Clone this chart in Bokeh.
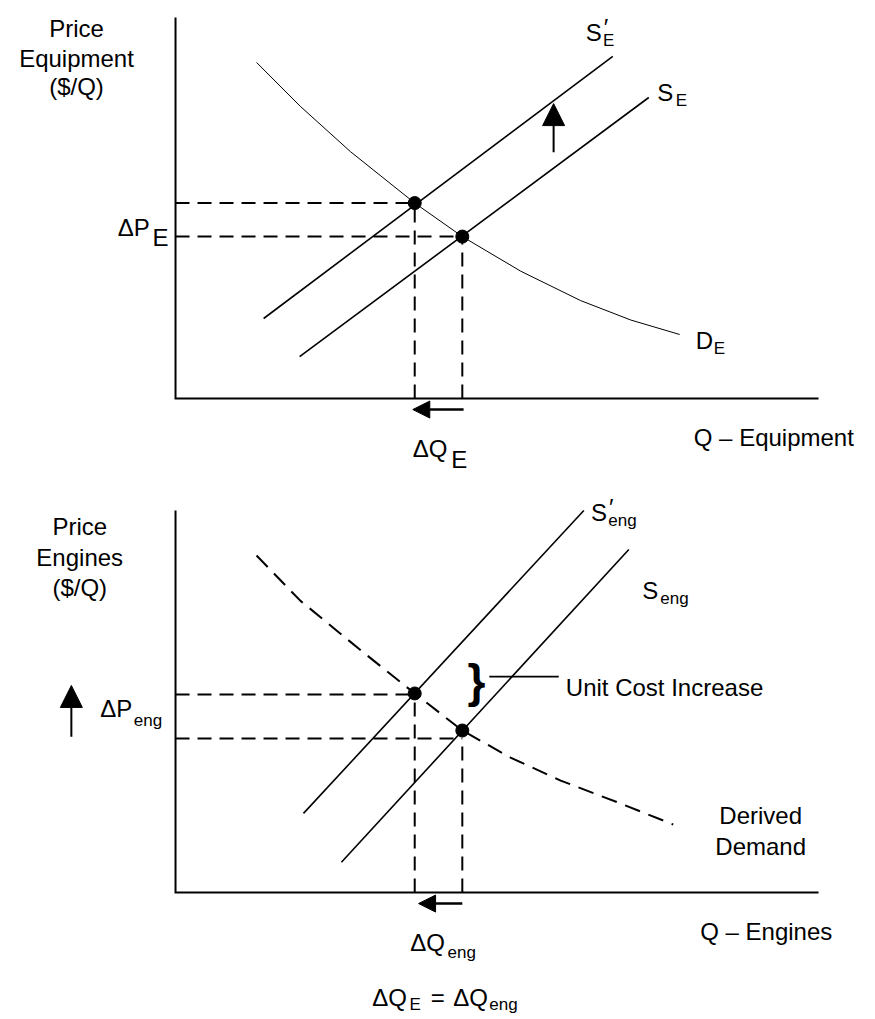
from bokeh.plotting import figure
from bokeh.layouts import column
from bokeh.models import Range1d, Label, Arrow, NormalHead
from bokeh.embed import file_html
from bokeh.resources import INLINE

FONT = "Liberation Sans"
MAIN = "24px"
SUB = "17px"

# ---------------- data (axis units: Q 0-100, P 0-100) ----------------
Q_MAX = 100
P_MAX = 100

# Top panel: equipment market
equip_demand_q = [12.6, 19.4, 27.2, 37.2, 44.6, 53.7, 63.0, 70.8, 78.4]
equip_demand_p = [88.2, 76.7, 64.8, 51.3, 42.5, 33.4, 25.7, 20.6, 16.8]
equip_supply_new_q = [13.7, 68.0]
equip_supply_new_p = [21.0, 89.8]
equip_supply_old_q = [19.3, 73.6]
equip_supply_old_p = [11.0, 79.0]
equip_equil_q = [37.2, 44.6]
equip_equil_p = [51.3, 42.5]
equip_shift_q = [58.8, 58.8]      # supply shift arrow (tail, tip)
equip_shift_p = [64.6, 77.4]
equip_dq_q = [44.8, 36.9]         # quantity change arrow (tail, tip)
equip_dq_p = [-2.9, -2.9]

# Bottom panel: engines market
eng_demand_q = [12.6, 19.4, 28.8, 37.2, 44.6, 52.1, 59.9, 69.2, 77.4]
eng_demand_p = [88.2, 76.4, 63.4, 52.1, 42.4, 35.3, 29.3, 23.3, 17.8]
eng_supply_new_q = [19.9, 63.5]
eng_supply_new_p = [20.7, 100.0]
eng_supply_old_q = [25.8, 70.5]
eng_supply_old_p = [7.9, 89.8]
eng_equil_q = [37.2, 44.6]
eng_equil_p = [52.1, 42.4]
eng_guide_p = [51.8, 40.3]
eng_dp_q = [-16.2, -16.2]          # price change arrow (tail, tip)
eng_dp_p = [40.8, 54.2]
eng_dq_q = [44.6, 37.8]
eng_dq_p = [-2.9, -2.9]
eng_callout_q = [48.8, 59.6]
eng_callout_p = [56.5, 56.5]

# ---------------- helpers ----------------
X_LO, X_HI = -27.22, 108.86


def base_fig(height, y_lo, y_hi):
    p = figure(width=875, height=height,
               x_range=Range1d(X_LO, X_HI), y_range=Range1d(y_lo, y_hi),
               x_axis_type=None, y_axis_type=None,
               output_backend="svg", toolbar_location=None, min_border=0,
               background_fill_color="white", border_fill_color="white",
               outline_line_color=None)
    p.line([0, 0, Q_MAX], [P_MAX, 0, 0], line_width=2, color="black",
           line_join="miter")
    return p


def lab(p, x, y, text, size=MAIN, align="left", style="normal"):
    p.add_layout(Label(x=x, y=y, text=text, text_font=FONT,
                       text_font_size=size, text_align=align,
                       text_font_style=style,
                       text_baseline="alphabetic", text_color="black"))


def arrow(p, xs, ys, head, width):
    p.add_layout(Arrow(end=NormalHead(size=head, fill_color="black",
                                      line_color="black", line_width=1),
                       x_start=xs[0], y_start=ys[0], x_end=xs[1], y_end=ys[1],
                       line_width=width, line_color="black"))


def guides(p, qs, ps):
    p.segment(x0=[0] * len(qs), y0=ps, x1=qs, y1=ps, line_width=2,
              line_dash="14 8", color="black")
    p.segment(x0=qs, y0=[0] * len(qs), x1=qs, y1=ps, line_width=2,
              line_dash="14 8", color="black")


# ---------------- top panel ----------------
p1 = base_fig(480, -21.52, 104.46)
p1.line(equip_demand_q, equip_demand_p, line_width=1, color="black")
p1.line(equip_supply_new_q, equip_supply_new_p, line_width=1.6, color="black")
p1.line(equip_supply_old_q, equip_supply_old_p, line_width=1.6, color="black")
guides(p1, equip_equil_q, equip_equil_p)
p1.scatter(equip_equil_q, equip_equil_p, size=13, color="black")
arrow(p1, equip_shift_q, equip_shift_p, 22, 2)
arrow(p1, equip_dq_q, equip_dq_p, 17, 2.5)

lab(p1, -15.4, 97.1, "Price", align="center")
lab(p1, -15.4, 89.2, "Equipment", align="center")
lab(p1, -15.4, 81.9, "($/Q)", align="center")
lab(p1, -9.0, 44.9, "ΔP")
lab(p1, -3.6, 42.2, "E")
lab(p1, 36.9, -13.1, "ΔQ")
lab(p1, 42.9, -16.0, "E")
lab(p1, 63.8, 96.1, "S")
lab(p1, 66.6, 97.3, "′")
lab(p1, 66.5, 94.0, "E", size=SUB)
lab(p1, 74.9, 80.3, "S")
lab(p1, 77.8, 78.2, "E", size=SUB)
lab(p1, 80.9, 15.2, "D")
lab(p1, 83.7, 13.1, "E", size=SUB)
lab(p1, 80.6, -10.2, "Q – Equipment")

# ---------------- bottom panel ----------------
p2 = base_fig(539, -33.25, 107.85)
p2.line(eng_demand_q, eng_demand_p, line_width=2, line_dash="16 9",
        color="black")
p2.line(eng_supply_new_q, eng_supply_new_p, line_width=1.6, color="black")
p2.line(eng_supply_old_q, eng_supply_old_p, line_width=1.6, color="black")
guides(p2, eng_equil_q, eng_guide_p)
p2.scatter(eng_equil_q, eng_equil_p, size=13, color="black")
arrow(p2, eng_dp_q, eng_dp_p, 22, 2)
arrow(p2, eng_dq_q, eng_dq_p, 17, 2.5)
p2.line(eng_callout_q, eng_callout_p, line_width=1.6, color="black")

lab(p2, -14.9, 95.8, "Price", align="center")
lab(p2, -14.9, 87.7, "Engines", align="center")
lab(p2, -14.9, 79.8, "($/Q)", align="center")
lab(p2, -11.7, 48.2, "ΔP")
lab(p2, -6.5, 45.0, "eng", size=SUB)
lab(p2, 64.6, 99.5, "S")
lab(p2, 67.4, 100.8, "′")
lab(p2, 67.3, 97.4, "eng", size=SUB)
lab(p2, 72.6, 79.1, "S")
lab(p2, 75.4, 77.0, "eng", size=SUB)
lab(p2, 45.4, 55.3, "}", size="46px", style="bold")
lab(p2, 60.7, 53.7, "Unit Cost Increase")
lab(p2, 91.0, 20.2, "Derived", align="center")
lab(p2, 91.0, 12.0, "Demand", align="center")
lab(p2, 81.6, -10.2, "Q – Engines")
lab(p2, 36.5, -13.1, "ΔQ")
lab(p2, 42.3, -15.7, "eng", size=SUB)
lab(p2, 30.6, -27.5, "ΔQ")
lab(p2, 36.4, -29.3, "E", size=SUB)
lab(p2, 39.7, -27.5, "=")
lab(p2, 43.2, -27.5, "ΔQ")
lab(p2, 48.8, -29.3, "eng", size=SUB)

layout = column(p1, p2, spacing=0)
open("out.html", "w").write(file_html(layout, INLINE))
